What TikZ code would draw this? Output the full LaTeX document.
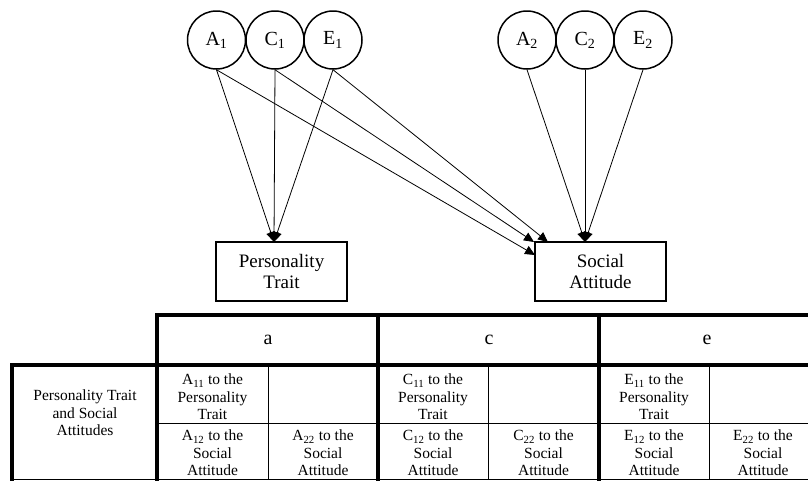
\documentclass[tikz,border=0pt]{standalone}
\usepackage{fontspec}
\setmainfont{Liberation Serif}
\usetikzlibrary{arrows.meta}
\begin{document}
\begin{tikzpicture}[x=1pt,y=-1pt,
 lat/.style={circle,draw,line width=1.5pt,minimum size=58pt,inner sep=0pt,font=\fontsize{20}{22}\selectfont},
 obs/.style={rectangle,draw,line width=1.9pt,minimum width=131pt,minimum height=59pt,align=center,font=\fontsize{19}{21}\selectfont},
 arr/.style={-{Triangle[length=10pt,width=9pt]},line width=0.8pt},
 thk/.style={line width=3.5pt,line cap=rect},
 thn/.style={line width=0.8pt},
 cell/.style={align=center,font=\fontsize{15.5}{17.5}\selectfont,inner sep=0pt},
 hdr/.style={font=\fontsize{20}{22}\selectfont,inner sep=0pt}]
\useasboundingbox (0,0) rectangle (808,480);
% latent variables
\node[lat] (A1) at (216.5,40) {A\textsubscript{1}};
\node[lat] (C1) at (275,40) {C\textsubscript{1}};
\node[lat] (E1) at (333,40) {E\textsubscript{1}};
\node[lat] (A2) at (527,40) {A\textsubscript{2}};
\node[lat] (C2) at (585,40) {C\textsubscript{2}};
\node[lat] (E2) at (643,40) {E\textsubscript{2}};
% observed
\node[obs] (PT) at (281.5,271.5) {Personality\\Trait};
\node[obs] (SA) at (600.5,271.5) {Social\\Attitude};
% arrow targets
\coordinate (ptin) at (274,242);
\coordinate (sain) at (585,242);
\coordinate (saA) at (535,255);
\coordinate (saC) at (534,242);
\coordinate (saE) at (548,242);
\draw[arr] (A1.south) -- (ptin);
\draw[arr] (C1.south) -- (ptin);
\draw[arr] (E1.south) -- (ptin);
\draw[arr] (A1.south) -- (saA);
\draw[arr] (C1.south) -- (saC);
\draw[arr] (E1.south) -- (saE);
\draw[arr] (A2.south) -- (sain);
\draw[arr] (C2.south) -- (sain);
\draw[arr] (E2.south) -- (sain);
% table lines
\draw[thk] (157,315) -- (808,315);
\draw[thk] (12,365) -- (808,365);
\draw[thk] (12,365) -- (12,480);
\draw[thk] (157,315) -- (157,480);
\draw[thk] (378,315) -- (378,480);
\draw[thk] (599,315) -- (599,480);
\draw[thn] (157,423) -- (808,423);
\draw[thn] (12,479.5) -- (808,479.5);
\draw[thn] (268,365) -- (268,480);
\draw[thn] (488,365) -- (488,480);
\draw[thn] (709,365) -- (709,480);
% headers
\node[hdr] (ha) at (268,340) {a};
\node[hdr] (hc) at (489,340) {c};
\node[hdr] (he) at (707,340) {e};
% row label
\node[cell] (rl) at (85,413) {Personality Trait\\and Social\\Attitudes};
% cells
\node[cell] (a11) at (212.5,397) {A\textsubscript{11} to the\\Personality\\Trait};
\node[cell] (a12) at (212.5,453) {A\textsubscript{12} to the\\Social\\Attitude};
\node[cell] (a22) at (323,453) {A\textsubscript{22} to the\\Social\\Attitude};
\node[cell] (c11) at (433,397) {C\textsubscript{11} to the\\Personality\\Trait};
\node[cell] (c12) at (433,453) {C\textsubscript{12} to the\\Social\\Attitude};
\node[cell] (c22) at (543.5,453) {C\textsubscript{22} to the\\Social\\Attitude};
\node[cell] (e11) at (654,397) {E\textsubscript{11} to the\\Personality\\Trait};
\node[cell] (e12) at (654,453) {E\textsubscript{12} to the\\Social\\Attitude};
\node[cell] (e22) at (763,453) {E\textsubscript{22} to the\\Social\\Attitude};
\end{tikzpicture}
\end{document}
